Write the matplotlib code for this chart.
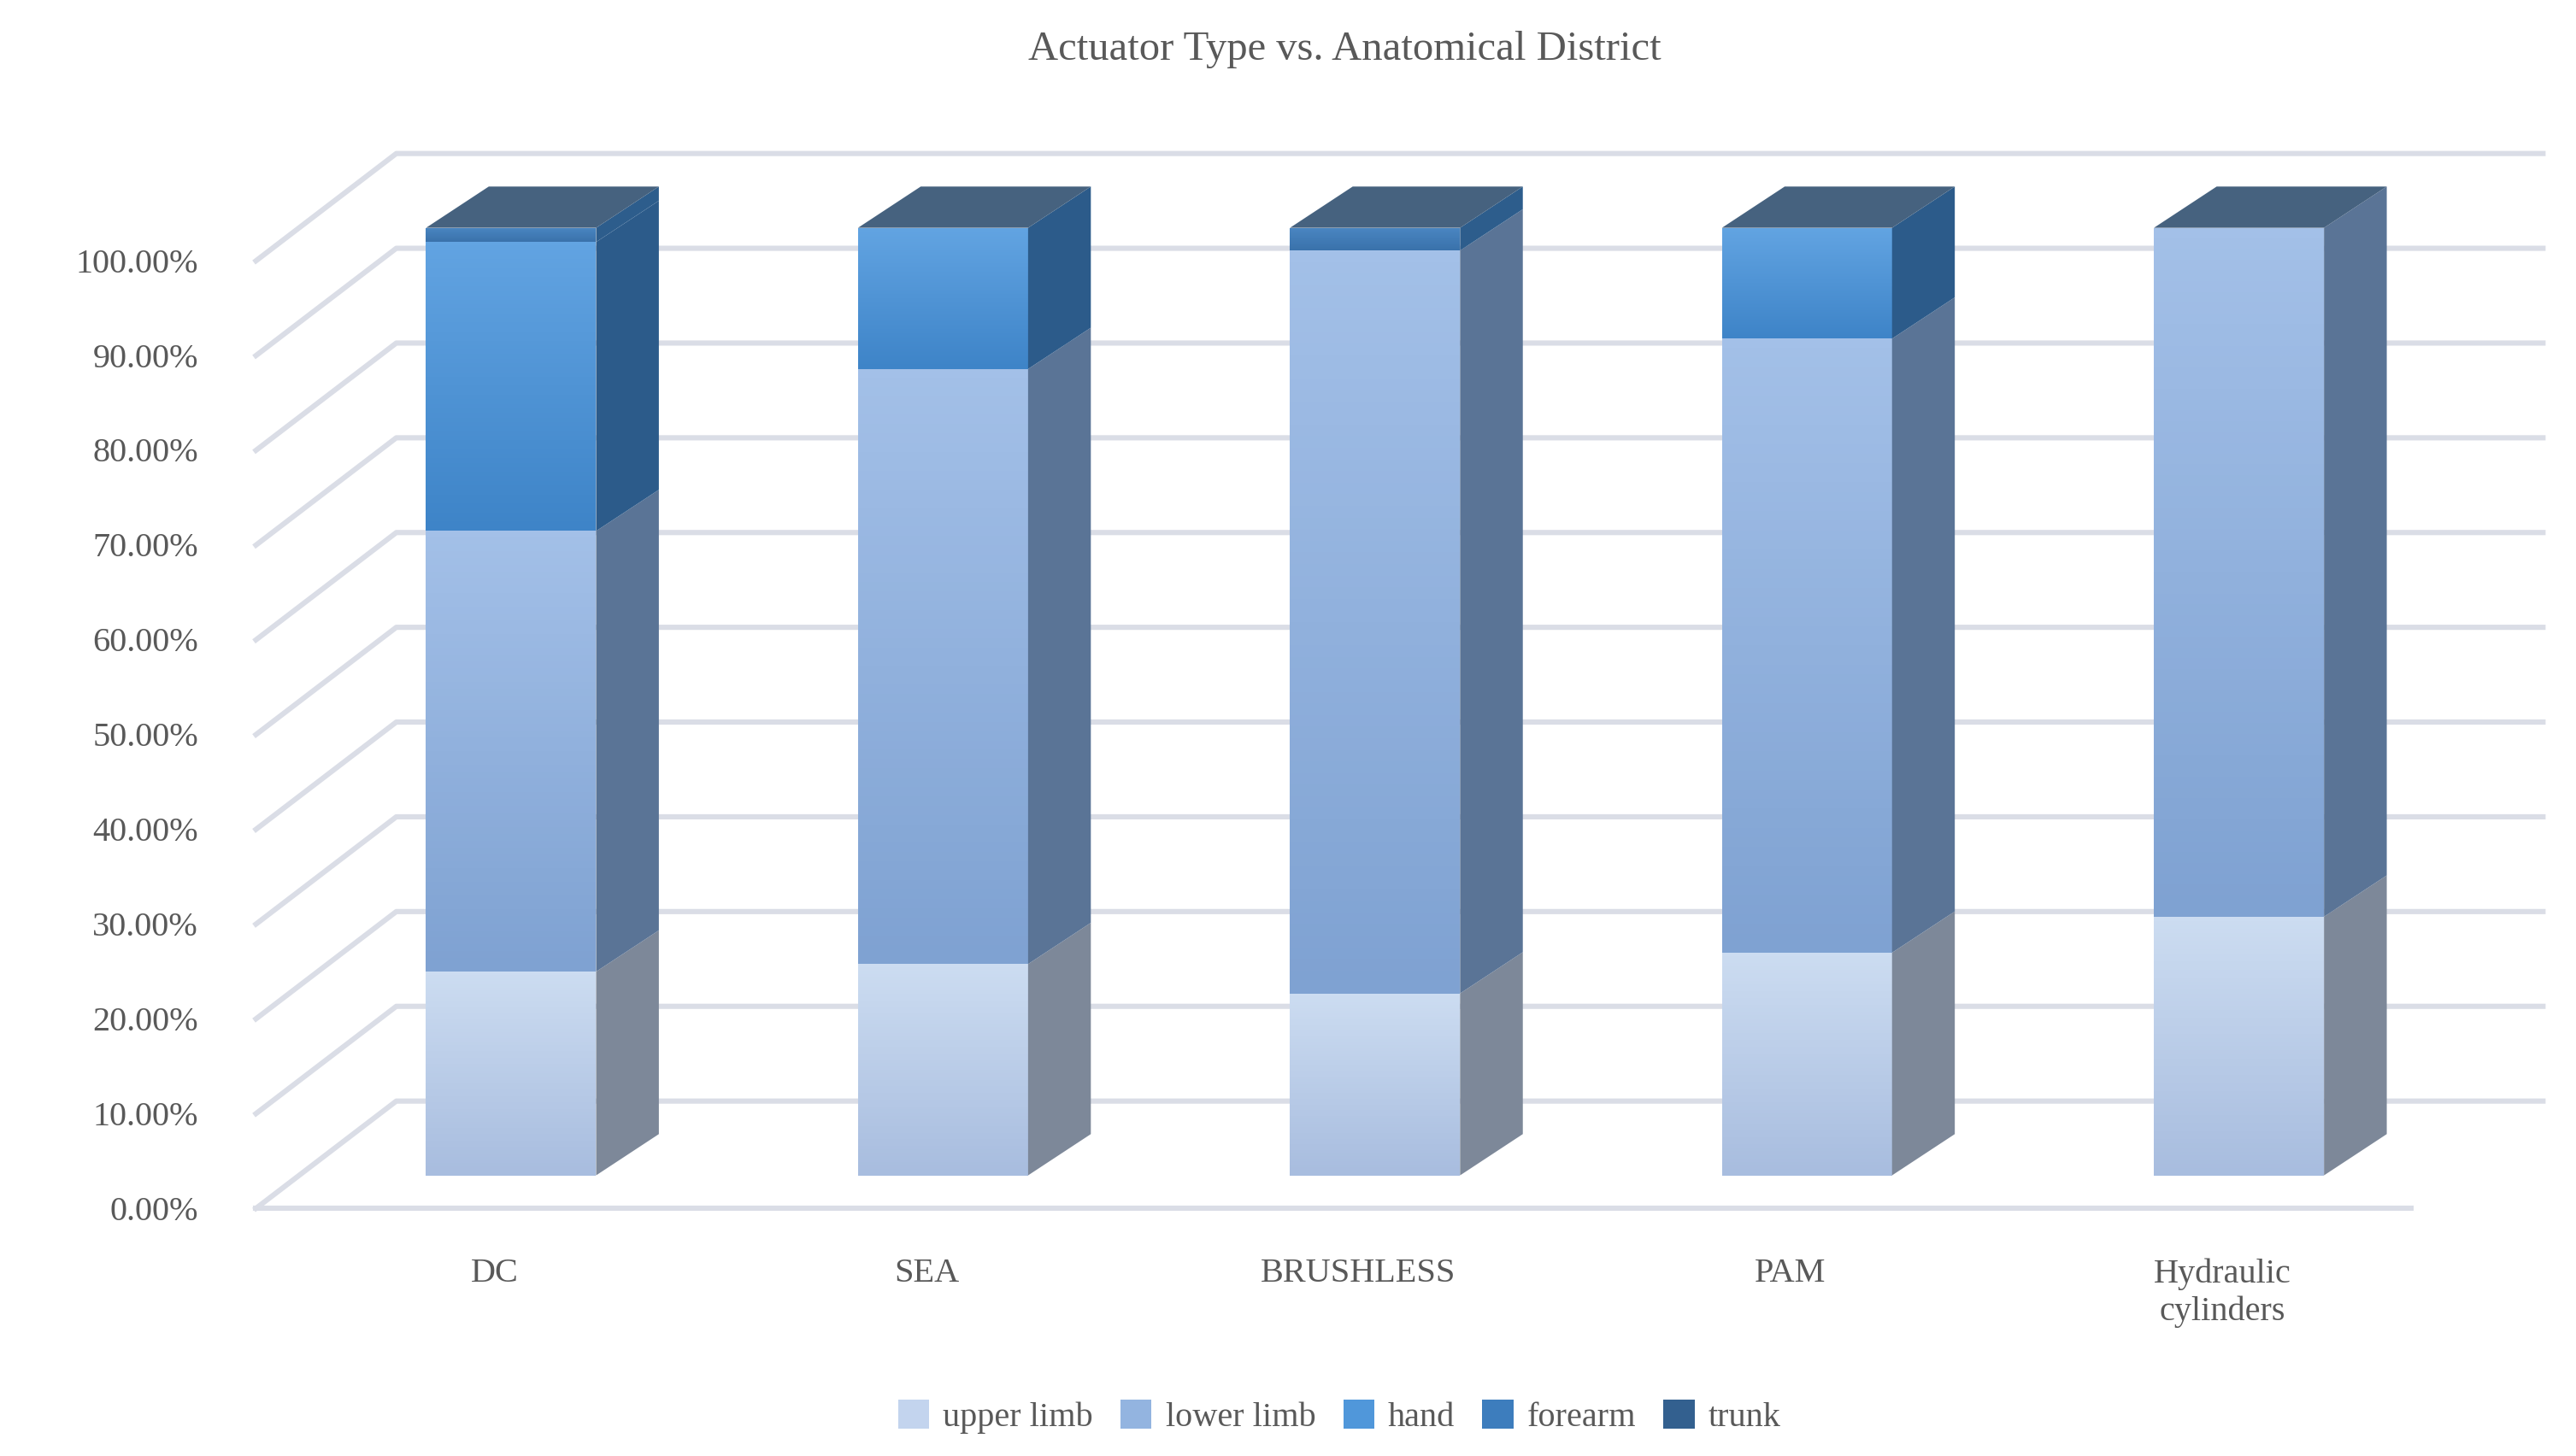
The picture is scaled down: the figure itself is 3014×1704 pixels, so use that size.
import matplotlib.pyplot as plt
from matplotlib.patches import Polygon, Patch
import numpy as np

# Stacked 3D-look column chart (faked in 2D, pixel-like data coords)

categories = ['DC', 'SEA', 'BRUSHLESS', 'PAM', 'Hydraulic\ncylinders']
series_names = ['upper limb', 'lower limb', 'hand', 'forearm', 'trunk']
upper_limb = [21.5, 22.3, 19.2, 23.5, 27.3]
lower_limb = [46.5, 62.8, 78.4, 64.8, 72.7]
hand = [30.5, 14.9, 0.0, 11.7, 0.0]
forearm = [1.5, 0.0, 2.4, 0.0, 0.0]
trunk = [0.0, 0.0, 0.0, 0.0, 0.0]
ticks = np.arange(0, 101, 10)

front_cols = [('#ccdcf1', '#a8bddf'), ('#a3c0e8', '#7fa2d2'), ('#62a4e2', '#3e84c8'),
              ('#4a86c2', '#3a72ab'), ('#3e6591', '#335a85')]
side_cols = ['#7d8899', '#5a7496', '#2c5b8a', '#2d5d8c', '#2f5179']
top_col = '#46627f'
legend_cols = ['#c3d4ee', '#93b4e0', '#5097da', '#3d7dbd', '#33608f']

W, H = 1560, 882
fig = plt.figure(figsize=(15.07, 8.52), dpi=200)
ax = fig.add_axes([0, 0, 1, 1])
ax.set_xlim(0, W)
ax.set_ylim(H, 0)
ax.axis('off')

font = ['Liberation Serif', 'DejaVu Serif']
txt = '#595959'

# geometry
y0_front, scale = 732, 5.74
gx0, gdx, gdy, gx1 = 155, 85, 65, 1540
bar_y0 = 712
bar_w, bdx, bdy = 103, 38, 25
x_first, x_step = 258, 261.6


def vy(v, base):
    return base - v*scale


# gridlines
grid_c = '#dadde6'
for t in ticks:
    yf = vy(t, y0_front)
    ax.plot([gx0, gx0+gdx, gx1], [yf, yf-gdy, yf-gdy], color=grid_c, lw=2.2, zorder=0)
    ax.text(120, yf+2, f'{t:.2f}%', ha='right', va='center', fontsize=14.5,
            color=txt, family=font)
ax.plot([gx0, 1460], [y0_front, y0_front], color=grid_c, lw=2.2, zorder=0)

data = [upper_limb, lower_limb, hand, forearm, trunk]
for i, cat in enumerate(categories):
    x = x_first + i*x_step
    base = 0.0
    for s, vals in enumerate(data):
        v = vals[i]
        if v <= 0:
            continue
        yb, yt = vy(base, bar_y0), vy(base+v, bar_y0)
        # front with vertical gradient
        poly = Polygon([(x, yb), (x+bar_w, yb), (x+bar_w, yt), (x, yt)],
                       closed=True, facecolor='none', edgecolor='none', zorder=2)
        ax.add_patch(poly)
        c1, c2 = front_cols[s]
        grad = np.linspace(0, 1, 64).reshape(-1, 1)
        from matplotlib.colors import LinearSegmentedColormap
        cm = LinearSegmentedColormap.from_list('g', [c1, c2])
        im = ax.imshow(grad, extent=(x, x+bar_w, yb, yt), cmap=cm, aspect='auto',
                       zorder=2, origin='upper')
        im.set_clip_path(poly)
        # side face
        ax.add_patch(Polygon([(x+bar_w, yb), (x+bar_w+bdx, yb-bdy),
                              (x+bar_w+bdx, yt-bdy), (x+bar_w, yt)],
                             closed=True, facecolor=side_cols[s], edgecolor='none', zorder=2))
        base += v
    yt = vy(base, bar_y0)
    ax.add_patch(Polygon([(x, yt), (x+bdx, yt-bdy), (x+bar_w+bdx, yt-bdy), (x+bar_w, yt)],
                         closed=True, facecolor=top_col, edgecolor='none', zorder=3))
    ax.text(x+bar_w/2-10, 762, cat, ha='center', va='top', fontsize=14.5, color=txt,
            family=font, linespacing=1.25)

ax.set_xlim(0, W)
ax.set_ylim(H, 0)

ax.text(W*0.522, 30, 'Actuator Type vs. Anatomical District', ha='center', va='center',
        fontsize=17.5, color=txt, family=font)

handles = [Patch(facecolor=c, edgecolor='none') for c in legend_cols]
fig.legend(handles, series_names, loc='center', bbox_to_anchor=(0.52, 0.027), ncol=5,
           frameon=False, prop={'family': font, 'size': 14.5}, labelcolor=txt,
           handlelength=0.9, handleheight=0.9, handletextpad=0.4, columnspacing=0.8)

fig.savefig('out.png', dpi=200)
